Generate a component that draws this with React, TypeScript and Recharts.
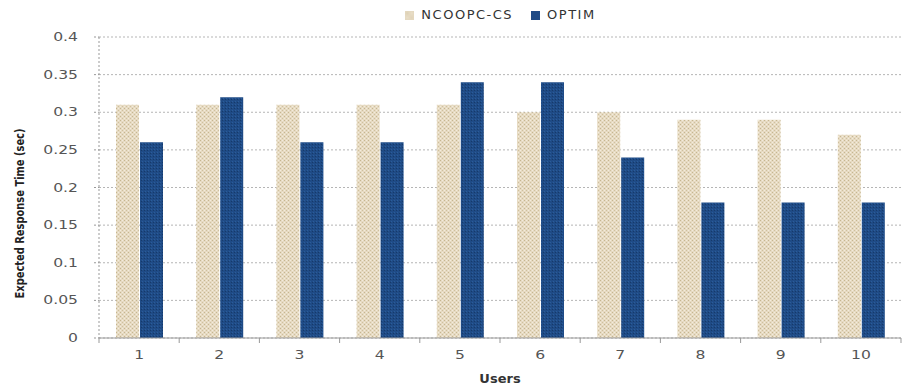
import React from 'react';
import {
    BarChart,
    Bar,
    XAxis,
    YAxis,
    CartesianGrid,
    Legend,
    Label
} from 'recharts';

const users = ['1', '2', '3', '4', '5', '6', '7', '8', '9', '10'];
const ncoopcCs = [0.31, 0.31, 0.31, 0.31, 0.31, 0.3, 0.3, 0.29, 0.29, 0.27];
const optim = [0.26, 0.32, 0.26, 0.26, 0.34, 0.34, 0.24, 0.18, 0.18, 0.18];
const yTicks = [0, 0.05, 0.1, 0.15, 0.2, 0.25, 0.3, 0.35, 0.4];

const data = users.map((u, i) => ({
    user: u,
    'NCOOPC-CS': ncoopcCs[i],
    OPTIM: optim[i]
}));

const FONT = 'DejaVu Sans, Verdana, sans-serif';

// tick text is drawn a bit wider than normal
function WideTick({ x, y, payload, anchor, dy }: any) {
    return (
        <g transform={`translate(${x},${y}) scale(1.3,1)`}>
            <text
                x={0}
                y={0}
                dy={dy}
                textAnchor={anchor}
                style={{ fontFamily: FONT, fontSize: 12, fill: '#555' }}
            >
                {payload.value}
            </text>
        </g>
    );
}

// category label plus a small mark on the band edge (between groups)
function UserTick(props: any) {
    const { x, y, payload, index, visibleTicksCount } = props;
    const half = payload.offset || 0;
    const last = index === visibleTicksCount - 1;
    return (
        <g>
            <line x1={x - half} x2={x - half} y1={y} y2={y + 5} stroke="#999" />
            {last && <line x1={x + half} x2={x + half} y1={y} y2={y + 5} stroke="#999" />}
            <WideTick x={x} y={y} payload={payload} anchor="middle" dy={21} />
        </g>
    );
}

export default function App() {
    return (
        <div style={{ position: 'absolute', left: 0, top: 0, background: '#fff' }}>
            <BarChart
                width={915}
                height={385}
                data={data}
                margin={{ top: 22, right: 14, left: 0, bottom: 0 }}
                barCategoryGap={33}
                barGap={1}
            >
                <defs>
                    {/* woven beige texture */}
                    <pattern id="beige" width="4" height="4" patternUnits="userSpaceOnUse">
                        <rect width="4" height="4" fill="#e6dac2" />
                        <rect x="0" y="0" width="1" height="1" fill="#c6b690" />
                        <rect x="2" y="2" width="1" height="1" fill="#cfc09e" />
                        <rect x="2" y="0" width="1" height="1" fill="#f3ecdc" />
                        <rect x="0" y="2" width="1" height="1" fill="#f3ecdc" />
                    </pattern>
                    {/* dark blue texture */}
                    <pattern id="navy" width="3" height="3" patternUnits="userSpaceOnUse">
                        <rect width="3" height="3" fill="#1f4b86" />
                        <rect x="0" y="0" width="1" height="1" fill="#163a6a" />
                        <rect x="1" y="2" width="1" height="1" fill="#2a5c9a" />
                    </pattern>
                </defs>
                <CartesianGrid
                    vertical={false}
                    stroke="#b5b5b5"
                    strokeDasharray="2 2"
                />
                <XAxis
                    dataKey="user"
                    stroke="#999"
                    tickLine={false}
                    tickSize={0}
                    tickMargin={0}
                    tick={<UserTick />}
                    height={47}
                    interval={0}
                >
                    <Label
                        value="Users"
                        position="insideBottom"
                        offset={2}
                        style={{
                            fontFamily: FONT,
                            fontSize: 13,
                            fontWeight: 'bold',
                            fill: '#333'
                        }}
                    />
                </XAxis>
                <YAxis
                    width={99}
                    domain={[0, 0.4]}
                    ticks={yTicks}
                    stroke="#999"
                    strokeDasharray="2 2"
                    tickSize={5}
                    tickMargin={16}
                    tick={<WideTick anchor="end" dy={4} />}
                >
                    <Label
                        content={({ viewBox }: any) => {
                            const x = viewBox.x + 19;
                            const y = viewBox.y + viewBox.height / 2 + 26;
                            return (
                                <text
                                    x={x}
                                    y={y}
                                    transform={`rotate(-90, ${x}, ${y})`}
                                    textAnchor="middle"
                                    dominantBaseline="central"
                                    textLength={170}
                                    lengthAdjust="spacingAndGlyphs"
                                    style={{
                                        fontFamily: FONT,
                                        fontSize: 13,
                                        fontWeight: 'bold',
                                        fill: '#222'
                                    }}
                                >
                                    Expected Response Time (sec)
                                </text>
                            );
                        }}
                    />
                </YAxis>
                <Legend
                    verticalAlign="top"
                    align="center"
                    iconType="square"
                    iconSize={9}
                    wrapperStyle={{
                        top: 7,
                        left: 105,
                        width: 809,
                        fontFamily: FONT,
                        fontSize: 13,
                        letterSpacing: 1.5
                    }}
                    formatter={(value: string) => (
                        <span style={{ color: '#333', paddingLeft: 3, paddingRight: 8 }}>{value}</span>
                    )}
                />
                <Bar dataKey="NCOOPC-CS" fill="url(#beige)" barSize={23} isAnimationActive={false} />
                <Bar dataKey="OPTIM" fill="url(#navy)" barSize={23} isAnimationActive={false} />
            </BarChart>
        </div>
    );
}
